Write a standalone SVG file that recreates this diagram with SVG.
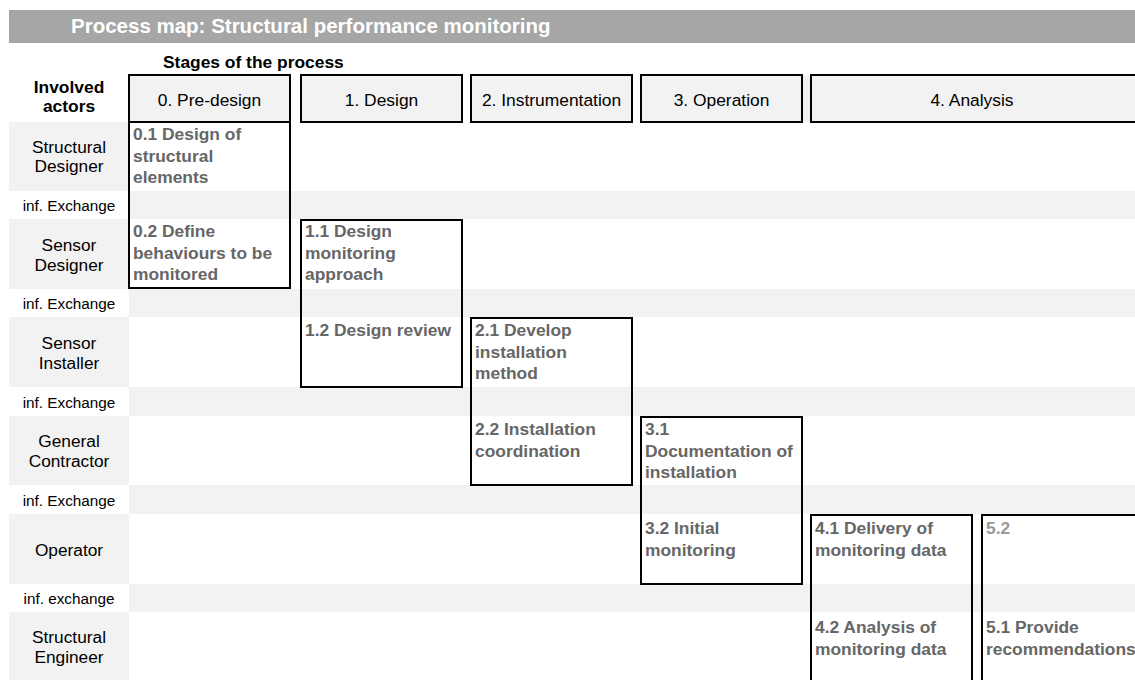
<svg xmlns="http://www.w3.org/2000/svg" width="1135" height="680" viewBox="0 0 1135 680">
<style>
text{font-family:"Liberation Sans",Arial,sans-serif;}
.band{fill:#f2f2f2;}
.box{fill:none;stroke:#000;stroke-width:2;}
.stage{fill:#f2f2f2;stroke:#000;stroke-width:2;}
.st{font-size:17.4px;fill:#000;text-anchor:middle;}
.actor{font-size:17.3px;fill:#000;text-anchor:middle;}
.ex{font-size:15.3px;fill:#000;text-anchor:middle;}
.step{font-size:17.4px;font-weight:bold;fill:#666;}
.faint{fill:#999;}
.hd{font-size:17.4px;font-weight:bold;fill:#000;}
</style>
<rect x="0" y="0" width="1135" height="680" fill="#fff"/>
<g id="title">
<rect x="9" y="10" width="1126" height="33" fill="#a6a6a6"/>
<text x="71" y="33" style="font-size:20.5px;font-weight:bold;fill:#fff">Process map: Structural performance monitoring</text>
</g>
<g id="headers">
<text class="hd" x="163" y="68">Stages of the process</text>
<text class="hd" x="69" y="93" text-anchor="middle">Involved</text>
<text class="hd" x="69" y="112" text-anchor="middle">actors</text>
</g>
<g id="bands">
<rect class="band" x="802" y="75" width="9" height="47"/>
<rect class="band" x="9" y="122" width="120" height="69"/>
<rect class="band" x="129" y="191" width="1006" height="28"/>
<rect class="band" x="9" y="219" width="120" height="70"/>
<rect class="band" x="129" y="289" width="1006" height="28"/>
<rect class="band" x="9" y="317" width="120" height="70"/>
<rect class="band" x="129" y="387" width="1006" height="29"/>
<rect class="band" x="9" y="416" width="120" height="69"/>
<rect class="band" x="129" y="485" width="1006" height="29"/>
<rect class="band" x="9" y="514" width="120" height="70"/>
<rect class="band" x="129" y="584" width="1006" height="28"/>
<rect class="band" x="9" y="612" width="120" height="68"/>
</g>
<g id="actors">
<g id="actor-structural-designer"><text class="actor" x="69" y="153">Structural</text><text class="actor" x="69" y="172">Designer</text></g>
<g id="exchange-1"><text class="ex" x="69" y="211">inf. Exchange</text></g>
<g id="actor-sensor-designer"><text class="actor" x="69" y="251">Sensor</text><text class="actor" x="69" y="271">Designer</text></g>
<g id="exchange-2"><text class="ex" x="69" y="309">inf. Exchange</text></g>
<g id="actor-sensor-installer"><text class="actor" x="69" y="349">Sensor</text><text class="actor" x="69" y="369">Installer</text></g>
<g id="exchange-3"><text class="ex" x="69" y="408">inf. Exchange</text></g>
<g id="actor-general-contractor"><text class="actor" x="69" y="447">General</text><text class="actor" x="69" y="467">Contractor</text></g>
<g id="exchange-4"><text class="ex" x="69" y="506">inf. Exchange</text></g>
<g id="actor-operator"><text class="actor" x="69" y="556">Operator</text></g>
<g id="exchange-5"><text class="ex" x="69" y="604">inf. exchange</text></g>
<g id="actor-structural-engineer"><text class="actor" x="69" y="643">Structural</text><text class="actor" x="69" y="663">Engineer</text></g>
</g>
<g id="stages">
<g id="stage-0"><rect class="stage" x="129" y="75" width="161" height="47"/><text class="st" x="209.5" y="105.5">0. Pre-design</text></g>
<g id="stage-1"><rect class="stage" x="301" y="75" width="161" height="47"/><text class="st" x="381.5" y="105.5">1. Design</text></g>
<g id="stage-2"><rect class="stage" x="471" y="75" width="161" height="47"/><text class="st" x="551.5" y="105.5">2. Instrumentation</text></g>
<g id="stage-3"><rect class="stage" x="641" y="75" width="161" height="47"/><text class="st" x="721.5" y="105.5">3. Operation</text></g>
<g id="stage-4"><rect class="stage" x="811" y="75" width="330" height="47"/><text class="st" x="972" y="105.5">4. Analysis</text></g>
</g>
<g id="connectors"></g>
<g id="box-0">
<rect class="box" x="129" y="122" width="161" height="166"/>
<text class="step" x="133" y="140"><tspan x="133">0.1 Design of</tspan><tspan x="133" dy="21.7">structural</tspan><tspan x="133" dy="21.7">elements</tspan></text>
<text class="step" x="133" y="237"><tspan x="133">0.2 Define</tspan><tspan x="133" dy="21.7">behaviours to be</tspan><tspan x="133" dy="21.7">monitored</tspan></text>
</g>
<g id="box-1">
<rect class="box" x="301" y="220" width="161" height="167"/>
<text class="step" x="305" y="237"><tspan x="305">1.1 Design</tspan><tspan x="305" dy="21.7">monitoring</tspan><tspan x="305" dy="21.7">approach</tspan></text>
<text class="step" x="305" y="336">1.2 Design review</text>
</g>
<g id="box-2">
<rect class="box" x="471" y="318" width="161" height="167"/>
<text class="step" x="475" y="336"><tspan x="475">2.1 Develop</tspan><tspan x="475" dy="21.7">installation</tspan><tspan x="475" dy="21.7">method</tspan></text>
<text class="step" x="475" y="435"><tspan x="475">2.2 Installation</tspan><tspan x="475" dy="21.7">coordination</tspan></text>
</g>
<g id="box-3">
<rect class="box" x="641" y="417" width="161" height="167"/>
<text class="step" x="645" y="435"><tspan x="645">3.1</tspan><tspan x="645" dy="21.7">Documentation of</tspan><tspan x="645" dy="21.7">installation</tspan></text>
<text class="step" x="645" y="534"><tspan x="645">3.2 Initial</tspan><tspan x="645" dy="21.7">monitoring</tspan></text>
</g>
<g id="box-4">
<rect class="box" x="811" y="515" width="161" height="180"/>
<text class="step" x="815" y="534"><tspan x="815">4.1 Delivery of</tspan><tspan x="815" dy="21.7">monitoring data</tspan></text>
<text class="step" x="815" y="633"><tspan x="815">4.2 Analysis of</tspan><tspan x="815" dy="21.7">monitoring data</tspan></text>
</g>
<g id="box-5">
<rect class="box" x="982" y="515" width="170" height="180"/>
<text class="step faint" x="986" y="534">5.2</text>
<text class="step" x="986" y="633"><tspan x="986">5.1 Provide</tspan><tspan x="986" dy="21.7">recommendations</tspan></text>
</g>
</svg>
